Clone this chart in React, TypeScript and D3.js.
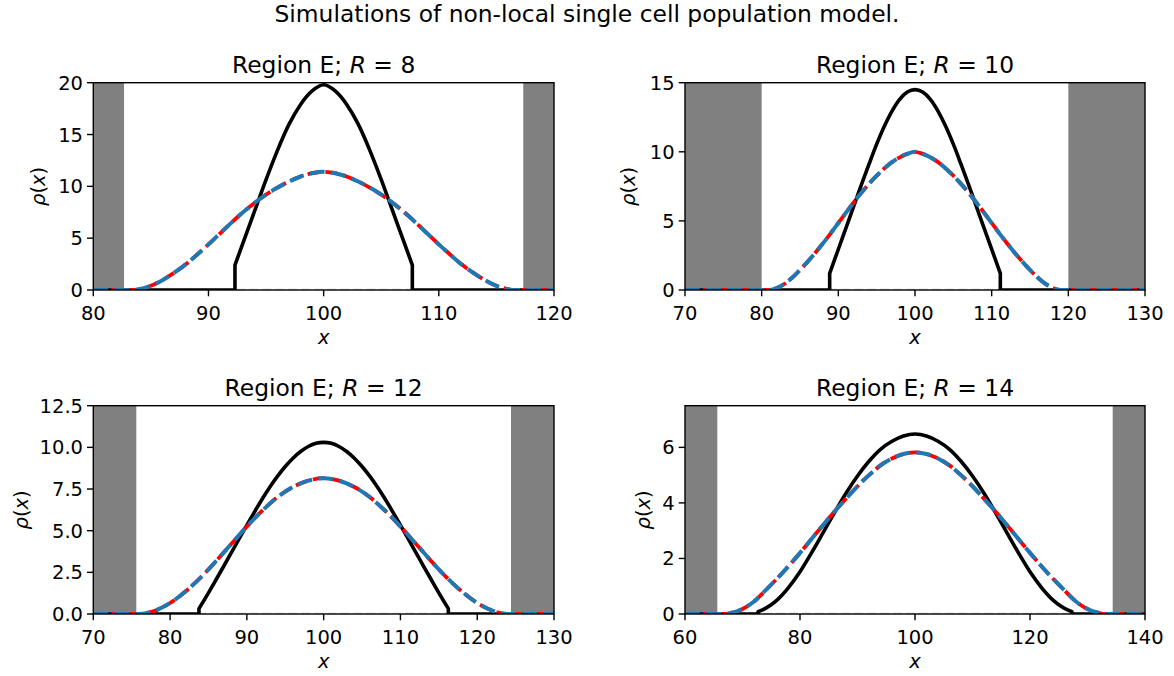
import React from "react";
import * as d3 from "d3";

const W = 1174;
const H = 676;
const FONT = "DejaVu Sans, Noto Sans, sans-serif";

const suptitle = "Simulations of non-local single cell population model.";
const panelR = [8, 10, 12, 14];
const xDomains = [[80, 120], [70, 130], [70, 130], [60, 140]];
const yDomains = [[0, 20], [0, 15], [0, 12.5], [0, 7.5]];
const xTicks = [
  [80, 90, 100, 110, 120],
  [70, 80, 90, 100, 110, 120, 130],
  [70, 80, 90, 100, 110, 120, 130],
  [60, 80, 100, 120, 140],
];
const yTicks = [
  [0, 5, 10, 15, 20],
  [0, 5, 10, 15],
  [0, 2.5, 5, 7.5, 10, 12.5],
  [0, 2, 4, 6],
];
const yTickFormats = ["d", "d", ".1f", "d"];
const grayBands = [
  [[80, 82.67], [117.33, 120]],
  [[70, 80], [120, 130]],
  [[70, 75.6], [124.4, 130]],
  [[60, 65.62], [134.38, 140]],
];

// solid black curve (support only; zero elsewhere)
const r8BlackX = [92.3, 93, 94, 95, 96, 97, 98, 99, 100, 101, 102, 103, 104, 105, 106, 107, 107.7];
const r8BlackY = [2.4, 4.55, 7.6, 10.65, 13.5, 16.0, 17.9, 19.2, 19.8, 19.2, 17.9, 16.0, 13.5, 10.65, 7.6, 4.55, 2.4];

const r10BlackX = [88.87, 89, 90, 91, 92, 93, 94, 95, 96, 97, 98, 99, 100, 101, 102, 103, 104, 105, 106, 107, 108, 109, 110, 111, 111.13];
const r10BlackY = [1.2, 1.4, 2.95, 4.5, 6.05, 7.6, 9.1, 10.55, 11.85, 12.95, 13.8, 14.33, 14.5, 14.33, 13.8, 12.95, 11.85, 10.55, 9.1, 7.6, 6.05, 4.5, 2.95, 1.4, 1.2];

const r12BlackX = [83.76, 84, 85, 86, 87, 88, 89, 90, 91, 92, 93, 94, 95, 96, 97, 98, 99, 100, 101, 102, 103, 104, 105, 106, 107, 108, 109, 110, 111, 112, 113, 114, 115, 116, 116.24];
const r12BlackY = [0.32, 0.5, 1.27, 2.07, 2.88, 3.7, 4.52, 5.33, 6.13, 6.9, 7.62, 8.27, 8.85, 9.35, 9.75, 10.05, 10.24, 10.3, 10.24, 10.05, 9.75, 9.35, 8.85, 8.27, 7.62, 6.9, 6.13, 5.33, 4.52, 3.7, 2.88, 2.07, 1.27, 0.5, 0.32];

const r14BlackX = [72.7, 74, 76, 78, 80, 82, 84, 86, 88, 90, 92, 94, 96, 98, 100, 102, 104, 106, 108, 110, 112, 114, 116, 118, 120, 122, 124, 126, 127.3];
const r14BlackY = [0.08, 0.2, 0.5, 0.95, 1.52, 2.2, 2.92, 3.65, 4.35, 4.97, 5.5, 5.93, 6.22, 6.41, 6.48, 6.41, 6.22, 5.93, 5.5, 4.97, 4.35, 3.65, 2.92, 2.2, 1.52, 0.95, 0.5, 0.2, 0.08];

// dashed curves (red and blue overlap)
const r8DashX = [80, 83.5, 84, 85, 86, 87, 88, 89, 90, 91, 92, 93, 94, 95, 96, 97, 98, 99, 100, 101, 102, 103, 104, 105, 106, 107, 108, 109, 110, 111, 112, 113, 114, 115, 116, 116.5, 120];
const r8DashY = [0, 0, 0.08, 0.4, 0.95, 1.65, 2.45, 3.4, 4.4, 5.45, 6.5, 7.5, 8.4, 9.2, 9.88, 10.47, 10.95, 11.27, 11.4, 11.27, 10.95, 10.47, 9.88, 9.2, 8.4, 7.5, 6.5, 5.45, 4.4, 3.4, 2.45, 1.65, 0.95, 0.4, 0.08, 0, 0];

const r10DashX = [70, 81, 82, 83, 84, 85, 86, 87, 88, 89, 90, 91, 92, 93, 94, 95, 96, 97, 98, 99, 100, 101, 102, 103, 104, 105, 106, 107, 108, 109, 110, 111, 112, 113, 114, 115, 116, 117, 118, 119, 130];
const r10DashY = [0, 0, 0.15, 0.45, 0.9, 1.45, 2.05, 2.7, 3.38, 4.1, 4.85, 5.6, 6.33, 7.03, 7.68, 8.27, 8.8, 9.25, 9.6, 9.85, 10.0, 9.85, 9.6, 9.25, 8.8, 8.27, 7.68, 7.03, 6.33, 5.6, 4.85, 4.1, 3.38, 2.7, 2.05, 1.45, 0.9, 0.45, 0.15, 0, 0];

const r12DashX = [70, 76, 78, 80, 82, 84, 86, 88, 90, 92, 94, 96, 98, 100, 102, 104, 106, 108, 110, 112, 114, 116, 118, 120, 122, 124, 130];
const r12DashY = [0, 0, 0.2, 0.66, 1.35, 2.2, 3.18, 4.22, 5.25, 6.2, 7.02, 7.62, 8.0, 8.15, 8.0, 7.62, 7.02, 6.2, 5.25, 4.22, 3.18, 2.2, 1.35, 0.66, 0.2, 0, 0];

const r14DashX = [60, 67, 68, 70, 72, 74, 76, 78, 80, 82, 84, 86, 88, 90, 92, 94, 96, 98, 100, 102, 104, 106, 108, 110, 112, 114, 116, 118, 120, 122, 124, 126, 128, 130, 132, 133, 140];
const r14DashY = [0, 0, 0.04, 0.18, 0.45, 0.85, 1.27, 1.72, 2.2, 2.7, 3.2, 3.69, 4.15, 4.6, 5.0, 5.35, 5.6, 5.76, 5.82, 5.76, 5.6, 5.35, 5.0, 4.6, 4.15, 3.69, 3.2, 2.7, 2.2, 1.72, 1.27, 0.85, 0.45, 0.18, 0.04, 0, 0];

const blackXs = [r8BlackX, r10BlackX, r12BlackX, r14BlackX];
const blackYs = [r8BlackY, r10BlackY, r12BlackY, r14BlackY];
const dashXs = [r8DashX, r10DashX, r12DashX, r14DashX];
const dashYs = [r8DashY, r10DashY, r12DashY, r14DashY];

// layout
const boxes = [
  { x0: 93.3, x1: 554, y0: 82.7, y1: 290, yl: 55 },
  { x0: 685, x1: 1145, y0: 82.7, y1: 290, yl: 57 },
  { x0: 93.3, x1: 554, y0: 405.7, y1: 614, yl: 72 },
  { x0: 685, x1: 1145, y0: 405.7, y1: 614, yl: 42 },
];

const TICK = 19.5;
const TITLE = 23.4;
const TL = 6.3;
const SPINE = 1.4;

function Panel({ i }: { i: number }) {
  const b = boxes[i];
  const xd = xDomains[i];
  const yd = yDomains[i];
  const xs = d3.scaleLinear().domain(xd).range([b.x0, b.x1]);
  const ys = d3.scaleLinear().domain(yd).range([b.y1, b.y0]);
  const bx = blackXs[i];
  const by = blackYs[i];
  const n = bx.length - 1;

  const lin = d3.line<number[]>().x((d) => xs(d[0])).y((d) => ys(d[1]));
  const mono = d3
    .line<number[]>()
    .x((d) => xs(d[0]))
    .y((d) => ys(d[1]))
    .curve(d3.curveMonotoneX);

  const leftPart = lin([[xd[0], 0], [bx[0], 0], [bx[0], by[0]]]) as string;
  const midPart = (mono(bx.map((x, k) => [x, by[k]])) as string).replace(/^M/, "L");
  const rightPart = (lin([[bx[n], by[n]], [bx[n], 0], [xd[1], 0]]) as string).replace(/^M/, "L");
  const blackPath = leftPart + midPart + rightPart;

  const dashPts = dashXs[i].map((x, k) => [x, dashYs[i][k]]);
  const dashPath = mono(dashPts) as string;
  const basePath = lin([[xd[0], 0], [xd[1], 0]]) as string;

  const fmt = d3.format(yTickFormats[i]);
  const clipId = `clip${i}`;
  const cx = (b.x0 + b.x1) / 2;
  const cy = (b.y0 + b.y1) / 2;

  return (
    <g>
      <defs>
        <clipPath id={clipId}>
          <rect x={b.x0} y={b.y0} width={b.x1 - b.x0} height={b.y1 - b.y0} />
        </clipPath>
      </defs>
      <g clipPath={`url(#${clipId})`}>
        {grayBands[i].map((g, k) => (
          <rect
            key={k}
            x={xs(g[0])}
            y={b.y0}
            width={xs(g[1]) - xs(g[0])}
            height={b.y1 - b.y0}
            fill="#808080"
          />
        ))}
        <path d={basePath} fill="none" stroke="#cfcfcf" strokeWidth={2.4} strokeDasharray="9,4" />
        <path d={blackPath} fill="none" stroke="#000" strokeWidth={3.6} strokeLinejoin="round" />
        <path d={dashPath} fill="none" stroke="#ff0000" strokeWidth={3.8} strokeDasharray="12.6,5.4" />
        <path d={dashPath} fill="none" stroke="#1f77b4" strokeWidth={4} strokeDasharray="14.8,6.4" />
      </g>
      <rect
        x={b.x0}
        y={b.y0}
        width={b.x1 - b.x0}
        height={b.y1 - b.y0}
        fill="none"
        stroke="#000"
        strokeWidth={SPINE}
      />
      {xTicks[i].map((t) => (
        <g key={`x${t}`}>
          <line x1={xs(t)} x2={xs(t)} y1={b.y1} y2={b.y1 + TL} stroke="#000" strokeWidth={SPINE} />
          <text x={xs(t)} y={b.y1 + 30} textAnchor="middle" fontSize={TICK} fontFamily={FONT}>
            {t}
          </text>
        </g>
      ))}
      {yTicks[i].map((t) => (
        <g key={`y${t}`}>
          <line x1={b.x0 - TL} x2={b.x0} y1={ys(t)} y2={ys(t)} stroke="#000" strokeWidth={SPINE} />
          <text
            x={b.x0 - TL - 4}
            y={ys(t)}
            dy="0.36em"
            textAnchor="end"
            fontSize={TICK}
            fontFamily={FONT}
          >
            {fmt(t)}
          </text>
        </g>
      ))}
      <text x={cx} y={b.y1 + 54} textAnchor="middle" fontSize={TICK} fontFamily={FONT} fontStyle="italic">
        x
      </text>
      <text
        transform={`translate(${b.x0 - b.yl},${cy}) rotate(-90)`}
        dy="0.35em"
        textAnchor="middle"
        fontSize={TICK}
        fontFamily={FONT}
      >
        <tspan fontStyle="italic">ρ</tspan>
        <tspan>(</tspan>
        <tspan fontStyle="italic">x</tspan>
        <tspan>)</tspan>
      </text>
      <text x={cx} y={b.y0 - 9.5} textAnchor="middle" fontSize={TITLE} fontFamily={FONT}>
        <tspan>Region E; </tspan>
        <tspan fontStyle="italic">R</tspan>
        <tspan> = {panelR[i]}</tspan>
      </text>
    </g>
  );
}

export default function App() {
  return (
    <svg
      width={W}
      height={H}
      viewBox={`0 0 ${W} ${H}`}
      style={{ position: "absolute", left: 0, top: 0, background: "#fff" }}
    >
      <rect x={0} y={0} width={W} height={H} fill="#fff" />
      <text x={587} y={22} textAnchor="middle" fontSize={TITLE} fontFamily={FONT}>
        {suptitle}
      </text>
      {[0, 1, 2, 3].map((i) => (
        <Panel key={i} i={i} />
      ))}
    </svg>
  );
}
